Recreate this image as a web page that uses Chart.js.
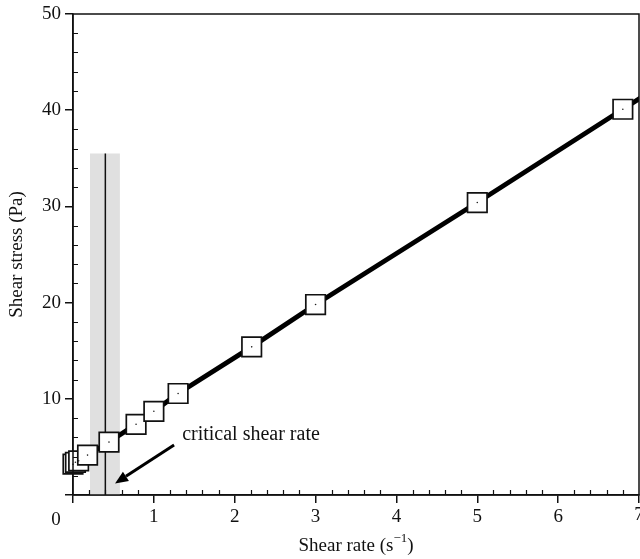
<!DOCTYPE html>
<html>
<head>
<meta charset="utf-8">
<script src="https://cdn.jsdelivr.net/npm/chart.js@4/dist/chart.umd.min.js"></script>
<style>
html,body{margin:0;padding:0;background:#fff;}
#wrap{width:640px;height:559px;}
</style>
</head>
<body>
<div id="wrap"><canvas id="c" width="640" height="559"></canvas></div>
<script>
// ---- data ----
const shearRate   = [0.0, 0.03, 0.07, 0.18, 0.445, 0.78, 1.0, 1.3, 2.21, 3.0, 5.0, 6.8];
const shearStress = [3.2, 3.4, 3.55, 4.15, 5.5, 7.35, 8.7, 10.55, 15.4, 19.8, 30.4, 40.1];
// the drawn curve continues past the right edge of the frame
const curveExtRate   = [8.0];
const curveExtStress = [46.6];
const xTicks = [0, 1, 2, 3, 4, 5, 6, 7];
const yTicks = [10, 20, 30, 40, 50];
const criticalRate = 0.40;
const bandRange = [0.21, 0.58];
const bandTop = 35.5;
const annotationText = 'critical shear rate';
const arrowFrom = [1.25, 5.2];
const arrowTo = [0.52, 1.2];
const xTitle = ['Shear rate (s', '\u22121', ')'];
const yTitle = 'Shear stress (Pa)';

const FONT = '"Liberation Serif", "Times New Roman", serif';
const X_MIN = xTicks[0], X_MAX = xTicks[xTicks.length - 1];

const markerPts = shearRate.map((x, i) => ({x, y: shearStress[i]}));
const curvePts = markerPts.concat(curveExtRate.map((x, i) => ({x, y: curveExtStress[i]})));

const decor = {
  id: 'decor',
  beforeDatasetsDraw(chart) {
    const {ctx, chartArea: a, scales: {x, y}} = chart;
    ctx.save();
    ctx.fillStyle = '#e0e0e0';
    const bx0 = x.getPixelForValue(bandRange[0]), bx1 = x.getPixelForValue(bandRange[1]);
    const by0 = y.getPixelForValue(bandTop), by1 = y.getPixelForValue(0);
    ctx.fillRect(bx0, by0, bx1 - bx0, by1 - by0);
    ctx.strokeStyle = '#111';
    ctx.lineWidth = 1.5;
    ctx.beginPath();
    const cx = x.getPixelForValue(criticalRate);
    ctx.moveTo(cx, by0); ctx.lineTo(cx, by1);
    ctx.stroke();
    ctx.restore();
  },
  afterDraw(chart) {
    const {ctx, chartArea: a, scales: {x, y}} = chart;
    ctx.save();
    ctx.strokeStyle = '#111';
    ctx.lineWidth = 1.5;
    ctx.strokeRect(a.left, a.top, a.right - a.left, a.bottom - a.top);
    ctx.lineWidth = 1.2;
    ctx.beginPath();
    for (let v = 0.2; v < X_MAX; v += 0.2) {
      if (Math.abs(v - Math.round(v)) < 1e-6) continue;
      const px = Math.round(x.getPixelForValue(v)) + 0.5;
      ctx.moveTo(px, a.bottom); ctx.lineTo(px, a.bottom - 5);
    }
    for (let v = 2; v < 50; v += 2) {
      if (v % 10 === 0) continue;
      const py = Math.round(y.getPixelForValue(v)) + 0.5;
      ctx.moveTo(a.left, py); ctx.lineTo(a.left + 5, py);
    }
    ctx.stroke();
    const x0 = x.getPixelForValue(arrowFrom[0]), y0 = y.getPixelForValue(arrowFrom[1]);
    const x1 = x.getPixelForValue(arrowTo[0]), y1 = y.getPixelForValue(arrowTo[1]);
    const ang = Math.atan2(y1 - y0, x1 - x0);
    const hl = 13, hw = 5.5;
    const bxp = x1 - hl * Math.cos(ang), byp = y1 - hl * Math.sin(ang);
    ctx.strokeStyle = '#000';
    ctx.lineWidth = 3;
    ctx.beginPath(); ctx.moveTo(x0, y0); ctx.lineTo(bxp, byp); ctx.stroke();
    ctx.fillStyle = '#000';
    ctx.beginPath();
    ctx.moveTo(x1, y1);
    ctx.lineTo(bxp + hw * Math.sin(ang), byp - hw * Math.cos(ang));
    ctx.lineTo(bxp - hw * Math.sin(ang), byp + hw * Math.cos(ang));
    ctx.closePath(); ctx.fill();
    ctx.fillStyle = '#111';
    ctx.font = '20px ' + FONT;
    ctx.textBaseline = 'middle';
    ctx.textAlign = 'left';
    ctx.fillText(annotationText, x.getPixelForValue(1.35), y.getPixelForValue(6.3));
    // end labels of the x axis (origin label sits left of the corner)
    ctx.font = '19px ' + FONT;
    ctx.textAlign = 'center';
    ctx.fillText(String(X_MIN), x.getPixelForValue(X_MIN) - 17, a.bottom + 25);
    ctx.textBaseline = 'top';
    ctx.fillText(String(X_MAX), x.getPixelForValue(X_MAX), a.bottom + 11);
    const fs = 19, sup = 13;
    ctx.font = fs + 'px ' + FONT;
    const w0 = ctx.measureText(xTitle[0]).width;
    const w2 = ctx.measureText(xTitle[2]).width;
    ctx.font = sup + 'px ' + FONT;
    const w1 = ctx.measureText(xTitle[1]).width;
    const total = w0 + w1 + w2;
    let tx = (a.left + a.right) / 2 - total / 2;
    const ty = a.bottom + 56;
    ctx.textAlign = 'left';
    ctx.textBaseline = 'alphabetic';
    ctx.font = fs + 'px ' + FONT;
    ctx.fillText(xTitle[0], tx, ty);
    tx += w0;
    ctx.font = sup + 'px ' + FONT;
    ctx.fillText(xTitle[1], tx, ty - 9);
    tx += w1;
    ctx.font = fs + 'px ' + FONT;
    ctx.fillText(xTitle[2], tx, ty);
    ctx.restore();
  }
};

new Chart(document.getElementById('c'), {
  type: 'scatter',
  data: {
    datasets: [
      {
        type: 'line',
        data: curvePts,
        borderColor: '#000',
        borderWidth: 4.8,
        pointRadius: 0,
        tension: 0,
        fill: false,
        order: 3
      },
      {
        data: markerPts,
        pointStyle: 'rect',
        pointRadius: 13.8,
        pointHoverRadius: 13.8,
        pointBackgroundColor: '#fff',
        pointBorderColor: '#111',
        pointBorderWidth: 1.7,
        showLine: false,
        clip: false,
        order: 2
      },
      {
        data: markerPts,
        pointStyle: 'circle',
        pointRadius: 0.8,
        pointBackgroundColor: '#222',
        pointBorderWidth: 0,
        showLine: false,
        clip: false,
        order: 1
      }
    ]
  },
  options: {
    responsive: false,
    animation: false,
    events: [],
    layout: {autoPadding: false, padding: {top: 14, right: 1, left: 0, bottom: 0}},
    plugins: {legend: {display: false}, tooltip: {enabled: false}},
    scales: {
      x: {
        type: 'linear', min: X_MIN, max: X_MAX,
        afterBuildTicks: s => { s.ticks = xTicks.map(v => ({value: v})); },
        afterFit: s => { s.height = 64; s.paddingRight = 0; s.paddingLeft = 0; },
        ticks: {
          color: '#111', font: {family: FONT, size: 19}, padding: 3,
          callback: v => (v === X_MIN || v === X_MAX) ? '' : String(v), maxRotation: 0, autoSkip: false
        },
        grid: {drawOnChartArea: false, drawTicks: true, tickLength: 8, color: '#111', lineWidth: 1.5},
        border: {display: true, color: '#111', width: 1.5}
      },
      y: {
        type: 'linear', min: 0, max: 50,
        afterBuildTicks: s => { s.ticks = [0].concat(yTicks).map(v => ({value: v})); },
        afterFit: s => { s.width = 73; s.paddingTop = 0; s.paddingBottom = 0; },
        ticks: {
          color: '#111', font: {family: FONT, size: 19}, padding: 4,
          callback: v => v === 0 ? '' : String(v), autoSkip: false
        },
        title: {display: true, text: yTitle, color: '#111', font: {family: FONT, size: 19}, padding: {top: 6, bottom: 0}},
        grid: {drawOnChartArea: false, drawTicks: true, tickLength: 8, color: '#111', lineWidth: 1.5},
        border: {display: true, color: '#111', width: 1.5}
      }
    }
  },
  plugins: [decor]
});
</script>
</body>
</html>
